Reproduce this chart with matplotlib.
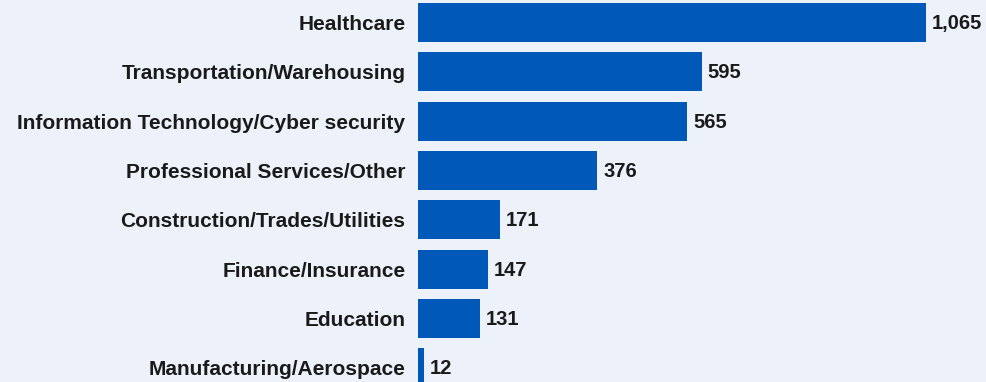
import matplotlib
matplotlib.use("Agg")
import matplotlib.pyplot as plt

# Job postings by industry
industries = [
    "Healthcare",
    "Transportation/Warehousing",
    "Information Technology/Cyber security",
    "Professional Services/Other",
    "Construction/Trades/Utilities",
    "Finance/Insurance",
    "Education",
    "Manufacturing/Aerospace",
]
postings = [1065, 595, 565, 376, 171, 147, 131, 12]

bg = "#EDF2FA"
bar_color = "#0058B9"
text_color = "#1A1A1A"

plt.rcParams["font.family"] = ["Liberation Sans", "DejaVu Sans"]

fig = plt.figure(figsize=(9.87, 3.82), dpi=100, facecolor=bg)
ax = fig.add_axes([418 / 987, 0, 1 - 418 / 987, 1])
ax.set_facecolor(bg)

ypos = list(range(len(industries)))
ax.barh(ypos, postings, height=0.79, color=bar_color)

for y, v in zip(ypos, postings):
    ax.text(v + 12, y + 0.02, f"{v:,}", va="center", ha="left",
            fontsize=14.5, fontweight="bold", color=text_color)

ax.set_xlim(0, 1193)
ax.set_ylim(7.29, -0.456)
ax.set_yticks(ypos)
ax.set_yticklabels(industries, fontsize=15, fontweight="bold", color=text_color)
ax.tick_params(axis="y", length=0, pad=9)
ax.set_xticks([])
for s in ax.spines.values():
    s.set_visible(False)

fig.savefig("out.png", dpi=100, facecolor=bg)
